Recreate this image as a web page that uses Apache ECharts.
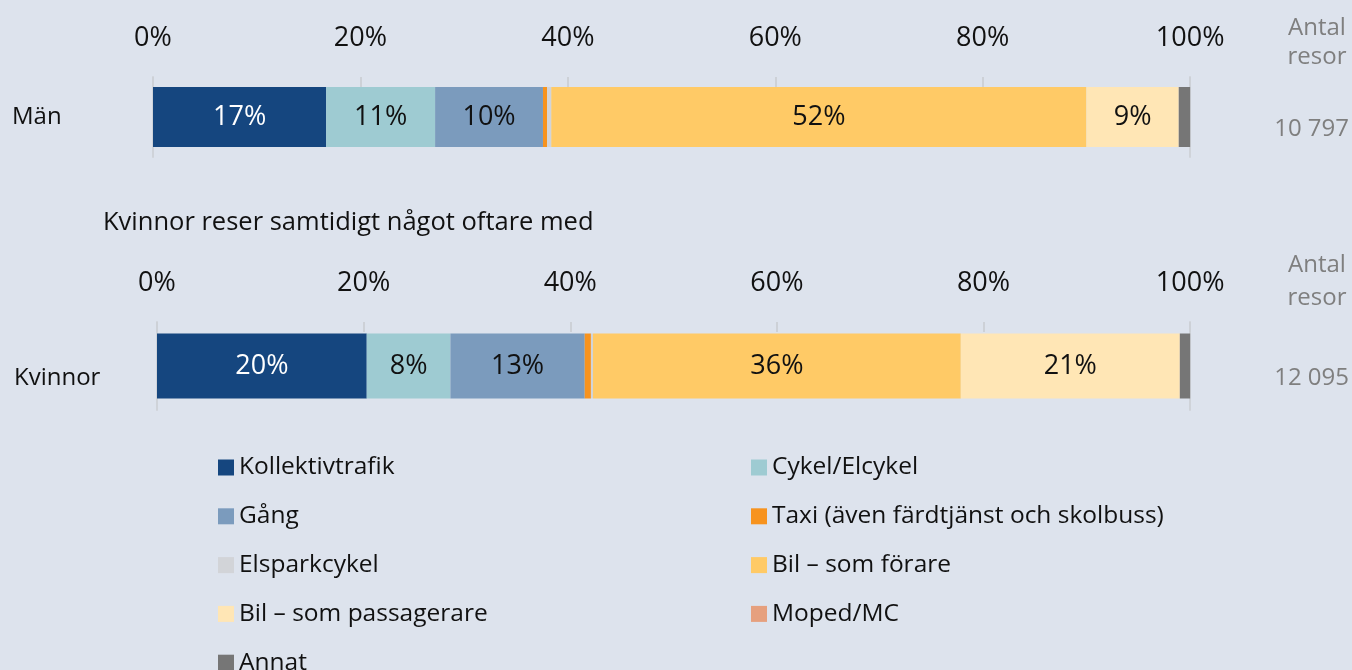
<!DOCTYPE html>
<html>
<head>
<meta charset="utf-8">
<script src="https://cdn.jsdelivr.net/npm/echarts@6/dist/echarts.min.js"></script>
<style>
  html, body { margin: 0; padding: 0; background: #dde3ed; }
  #chart { width: 1352px; height: 670px; }
</style>
</head>
<body>
<div id="chart"></div>
<script>
// färdsätt, andel av resor (%)
var modes = ['Kollektivtrafik', 'Cykel/Elcykel', 'Gång', 'Taxi (även färdtjänst och skolbuss)',
  'Elsparkcykel', 'Bil – som förare', 'Bil – som passagerare', 'Moped/MC', 'Annat'];
var menShares = [16.7, 10.5, 10.4, 0.4, 0.4, 51.6, 8.9, 0, 1.1];
var womenShares = [20.3, 8.1, 13.0, 0.6, 0.2, 35.6, 21.2, 0, 1.0];
var groups = ['Män', 'Kvinnor'];
var tripCounts = ['10 797', '12 095'];
var colors = ['#15467f', '#9ecbd2', '#7b9bbd', '#f7931e', '#d2d4d8', '#ffca66', '#ffe6b5', '#e6a07e', '#767676'];

var FONT = 'Open Sans';
var myChart = echarts.init(document.getElementById('chart'));

function makeSeries(shares, idx) {
    return modes.map(function (name, i) {
        return {
            name: name,
            type: 'bar',
            stack: 'g' + idx,
            xAxisIndex: idx,
            yAxisIndex: idx * 2,
            barWidth: idx == 0 ? 60 : 65,
            itemStyle: { color: colors[i] },
            label: {
                show: true,
                position: 'inside',
                fontFamily: FONT,
                fontSize: 27,
                color: i == 0 ? '#ffffff' : '#111111',
                formatter: function (p) {
                    return p.value >= 3 ? Math.round(p.value) + '%' : '';
                }
            },
            emphasis: { disabled: true },
            data: [shares[i]]
        };
    });
}

function xAx(idx) {
    return {
        type: 'value', gridIndex: idx, position: 'top',
        min: 0, max: 100, interval: 20,
        axisLine: { show: false },
        axisTick: { show: true, inside: true, length: 10, lineStyle: { color: '#cdd1d7', width: 2 } },
        splitLine: { show: false },
        axisLabel: { formatter: '{value}%', fontFamily: FONT, fontSize: 27, color: '#111', margin: 25 }
    };
}

// vänster: kategori, höger: antal resor
function yAx(idx, side, data, margin, color, lbl) {
    return {
        type: 'category', gridIndex: idx, position: side, data: data,
        axisLine: { show: true, lineStyle: { color: '#cfd3d9', width: 2 } },
        axisTick: { show: false },
        axisLabel: Object.assign({ align: 'left', margin: margin, fontFamily: FONT, fontSize: 24, color: color }, lbl)
    };
}

var option = {
    backgroundColor: '#dde3ed',
    animation: false,
    title: [
        { text: 'Antal\nresor', left: 1312, top: 9, textAlign: 'center',
          textStyle: { fontFamily: FONT, fontSize: 24, fontWeight: 'normal', color: '#7f7f7f', lineHeight: 29 } },
        { text: 'Antal\nresor', left: 1312, top: 244, textAlign: 'center',
          textStyle: { fontFamily: FONT, fontSize: 24, fontWeight: 'normal', color: '#7f7f7f', lineHeight: 33 } },
        { text: 'Kvinnor reser samtidigt något oftare med', left: 98, top: 205,
          textStyle: { fontFamily: FONT, fontSize: 25.5, fontWeight: 'normal', color: '#111' } }
    ],
    legend: [
        { orient: 'vertical', left: 213, top: 450, height: 300, itemWidth: 16, itemHeight: 16, itemGap: 23.8, icon: 'rect',
          textStyle: { fontFamily: FONT, fontSize: 24.5, lineHeight: 20, color: '#111' },
          data: [modes[0], modes[2], modes[4], modes[6], modes[8]] },
        { orient: 'vertical', left: 746, top: 450, height: 300, itemWidth: 16, itemHeight: 16, itemGap: 23.8, icon: 'rect',
          textStyle: { fontFamily: FONT, fontSize: 24.5, lineHeight: 20, color: '#111' },
          data: [modes[1], modes[3], modes[5], modes[7]] }
    ],
    grid: [
        { left: 153, right: 160, top: 77, height: 80 },
        { left: 157, right: 160, top: 322, height: 88 }
    ],
    xAxis: [xAx(0), xAx(1)],
    yAxis: [
        yAx(0, 'left', [groups[0]], 141, '#111', { padding: [6, 0, 0, 0] }),
        yAx(0, 'right', [tripCounts[0]], 84, '#7f7f7f', { verticalAlign: 'top' }),
        yAx(1, 'left', [groups[1]], 143, '#111', { verticalAlign: 'top' }),
        yAx(1, 'right', [tripCounts[1]], 84, '#7f7f7f', { verticalAlign: 'top' })
    ],
    series: makeSeries(menShares, 0).concat(makeSeries(womenShares, 1))
};

myChart.setOption(option);
</script>
</body>
</html>
